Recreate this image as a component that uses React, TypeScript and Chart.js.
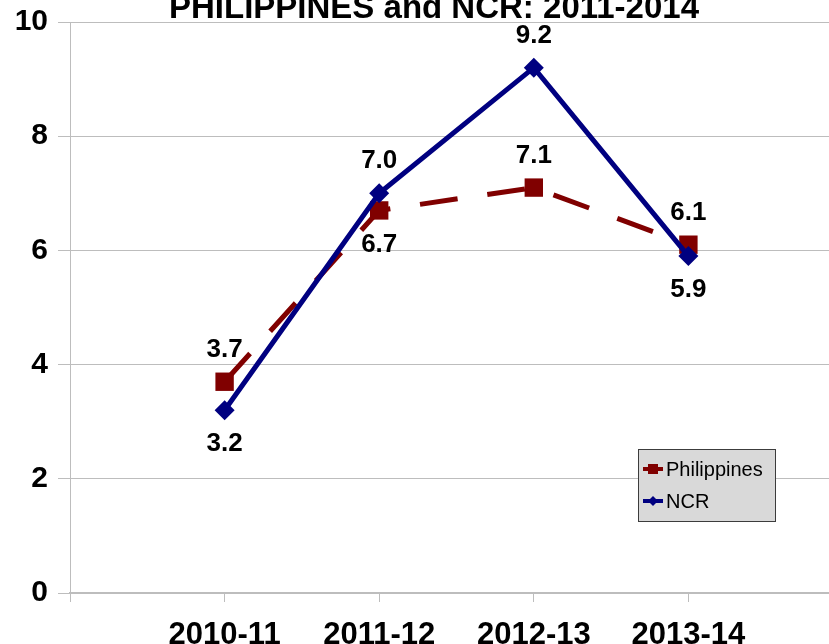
import React, { useEffect, useRef } from "react";
import { Chart, registerables } from "chart.js";

Chart.register(...registerables);

const TITLE = "PHILIPPINES and NCR: 2011-2014";
const categories = ["", "2010-11", "2011-12", "2012-13", "2013-14", ""];
const philippines = [null, 3.7, 6.7, 7.1, 6.1, null];
const ncr = [null, 3.2, 7.0, 9.2, 5.9, null];
const philippinesLabelPos = ["", "above", "below", "above", "above", ""];
const ncrLabelPos = ["", "below", "above", "above", "below", ""];
const yTicks = [0, 2, 4, 6, 8, 10];

const FONT = '"Liberation Sans", Arial, sans-serif';
const RED = "#800000";
const BLUE = "#000080";
const GRID = "#bdbdbd";

const labelPlugin = {
  id: "valueLabels",
  afterDatasetsDraw(chart: any) {
    const ctx = chart.ctx;
    ctx.save();
    ctx.font = `bold 26px ${FONT}`;
    ctx.fillStyle = "#000";
    ctx.textAlign = "center";
    ctx.textBaseline = "middle";
    chart.data.datasets.forEach((ds: any, di: number) => {
      const meta = chart.getDatasetMeta(di);
      const pos = ds.labelPos as string[];
      meta.data.forEach((pt: any, i: number) => {
        const v = ds.data[i];
        if (v === null || v === undefined) return;
        const dy = pos[i] === "above" ? -32 : 34;
        ctx.fillText(Number(v).toFixed(1), pt.x, pt.y + dy);
      });
    });
    ctx.restore();
  },
};

const titleLegendPlugin = {
  id: "titleLegend",
  afterDraw(chart: any) {
    const ctx = chart.ctx;
    ctx.save();
    ctx.font = `bold 33px ${FONT}`;
    ctx.fillStyle = "#000";
    ctx.textAlign = "center";
    ctx.textBaseline = "alphabetic";
    ctx.fillText(TITLE, 434, 18);

    const bx = 638, by = 449, bw = 137, bh = 72;
    ctx.fillStyle = "#d9d9d9";
    ctx.fillRect(bx, by, bw, bh);
    ctx.strokeStyle = "#3c3c3c";
    ctx.lineWidth = 1;
    ctx.strokeRect(bx + 0.5, by + 0.5, bw, bh);

    const rows = [469, 501];
    chart.data.datasets.forEach((ds: any, i: number) => {
      const y = rows[i];
      ctx.strokeStyle = ds.borderColor;
      ctx.lineWidth = 4;
      ctx.setLineDash([]);
      ctx.beginPath();
      ctx.moveTo(643, y);
      ctx.lineTo(663, y);
      ctx.stroke();
      ctx.fillStyle = ds.borderColor;
      if (ds.pointStyle === "rect") {
        ctx.fillRect(648, y - 5, 10, 10);
      } else {
        ctx.beginPath();
        ctx.moveTo(653, y - 5);
        ctx.lineTo(658, y);
        ctx.lineTo(653, y + 5);
        ctx.lineTo(648, y);
        ctx.closePath();
        ctx.fill();
      }
      ctx.fillStyle = "#000";
      ctx.font = `20px ${FONT}`;
      ctx.textAlign = "left";
      ctx.textBaseline = "middle";
      ctx.fillText(ds.label, 666, y + 1);
    });
    ctx.restore();
  },
};

export default function App() {
  const ref = useRef<HTMLCanvasElement>(null);
  useEffect(() => {
    if (!ref.current) return;
    const chart = new Chart(ref.current, {
      type: "line",
      data: {
        labels: categories,
        datasets: [
          {
            label: "Philippines",
            data: philippines,
            labelPos: philippinesLabelPos,
            borderColor: RED,
            backgroundColor: RED,
            borderWidth: 5,
            borderDash: [38, 30],
            pointStyle: "rect",
            pointRadius: 13,
            pointBorderWidth: 0,
            pointBackgroundColor: RED,
            tension: 0,
            order: 1,
          } as any,
          {
            label: "NCR",
            data: ncr,
            labelPos: ncrLabelPos,
            borderColor: BLUE,
            backgroundColor: BLUE,
            borderWidth: 5,
            pointStyle: "rectRot",
            pointRadius: 10,
            pointBorderWidth: 0,
            pointBackgroundColor: BLUE,
            tension: 0,
            order: 0,
          } as any,
        ],
      },
      options: {
        responsive: false,
        animation: false,
        devicePixelRatio: 1,
        layout: { padding: { top: 22, left: 0, right: 0, bottom: 0 } },
        plugins: {
          legend: { display: false },
          title: { display: false },
          tooltip: { enabled: false },
        },
        scales: {
          x: {
            type: "category",
            offset: false,
            grid: {
              display: true,
              drawOnChartArea: false,
              drawTicks: true,
              tickLength: 9,
              color: GRID,
            },
            border: { color: GRID, width: 2 },
            ticks: {
              autoSkip: false,
              maxRotation: 0,
              color: "#000",
              font: { family: FONT, size: 31, weight: "bold" },
              padding: 15,
            },
            afterFit(scale: any) {
              scale.height = 660 - 593;
              scale.paddingLeft = 0;
              scale.paddingRight = 0;
            },
          },
          y: {
            min: 0,
            max: 10,
            afterBuildTicks(scale: any) {
              scale.ticks = yTicks.map((v) => ({ value: v }));
            },
            grid: { color: GRID, tickLength: 12, lineWidth: 1 },
            border: { color: GRID, width: 1 },
            ticks: {
              color: "#000",
              font: { family: FONT, size: 30, weight: "bold" },
              padding: 10,
            },
            afterFit(scale: any) {
              scale.width = 70;
              scale.paddingTop = 0;
              scale.paddingBottom = 0;
            },
          },
        },
      },
      plugins: [labelPlugin, titleLegendPlugin],
    });
    return () => chart.destroy();
  }, []);
  return (
    <div
      style={{
        position: "fixed",
        left: 0,
        top: 0,
        width: 829,
        height: 644,
        overflow: "hidden",
        background: "#fff",
      }}
    >
      <canvas ref={ref} width={856} height={660} style={{ display: "block" }} />
    </div>
  );
}
